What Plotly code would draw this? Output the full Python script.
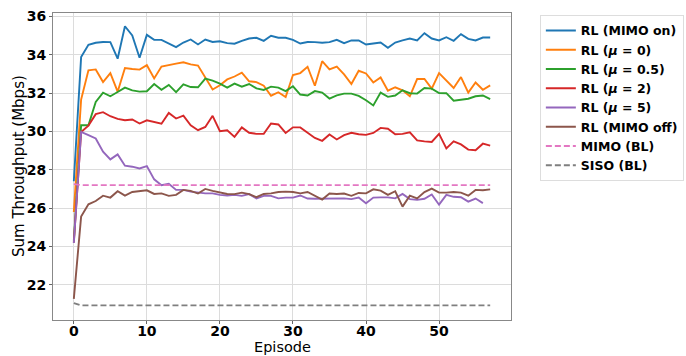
import plotly.graph_objects as go

episodes = list(range(58))

rl_mimo_on = [27.4, 33.87, 34.51, 34.62, 34.66, 34.65, 33.79, 35.48, 35.0, 33.84,
              35.03, 34.77, 34.77, 34.57, 34.39, 34.63, 34.79, 34.53, 34.79, 34.66,
              34.7, 34.6, 34.57, 34.72, 34.84, 34.88, 34.72, 34.98, 34.88, 34.88,
              34.77, 34.58, 34.66, 34.65, 34.62, 34.65, 34.77, 34.6, 34.74, 34.74,
              34.53, 34.58, 34.63, 34.36, 34.63, 34.74, 34.84, 34.74, 35.12, 34.84,
              34.74, 34.91, 34.72, 35.07, 34.82, 34.74, 34.89, 34.89]

rl_mu0 = [25.8, 31.66, 33.18, 33.23, 32.57, 33.04, 32.07, 33.3, 33.25, 33.22,
          33.45, 32.76, 33.38, 33.47, 33.53, 33.6, 33.49, 33.43, 32.78, 32.18,
          32.4, 32.71, 32.86, 33.06, 32.61, 32.57, 32.38, 31.86, 32.04, 31.79,
          32.94, 33.04, 33.37, 32.38, 33.66, 33.23, 33.38, 32.97, 32.47, 33.16,
          33.02, 32.55, 32.81, 32.12, 32.3, 32.14, 31.83, 32.73, 32.73, 32.23,
          33.04, 32.66, 32.26, 32.83, 32.02, 32.55, 32.17, 32.4]

rl_mu05 = [24.3, 30.32, 30.32, 31.53, 32.02, 31.83, 32.05, 32.28, 32.14, 32.07,
           32.09, 32.47, 32.17, 32.42, 32.04, 32.45, 32.31, 32.3, 32.75, 32.65,
           32.49, 32.28, 32.49, 32.33, 32.47, 32.24, 32.16, 32.33, 32.28, 32.1,
           32.35, 31.92, 31.87, 32.1, 32.02, 31.71, 31.88, 31.97, 31.97, 31.85,
           31.62, 31.35, 32.02, 31.8, 31.87, 32.14, 31.99, 31.97, 32.26, 32.23,
           32.0, 31.99, 31.6, 31.66, 31.7, 31.83, 31.87, 31.68]

rl_mu2 = [24.2, 29.97, 30.3, 30.9, 31.0, 30.79, 30.65, 30.58, 30.62, 30.41,
          30.58, 30.5, 30.4, 30.96, 30.67, 30.82, 30.32, 30.06, 30.23, 30.81,
          30.01, 30.06, 29.71, 30.21, 29.93, 29.87, 29.88, 30.41, 30.36, 29.92,
          30.21, 30.21, 29.93, 29.66, 29.51, 29.84, 29.58, 29.8, 29.93, 29.85,
          29.82, 29.92, 30.18, 30.14, 29.85, 29.87, 29.95, 29.53, 29.48, 29.45,
          29.87, 29.11, 29.48, 29.32, 29.05, 29.02, 29.36, 29.26]

rl_mu5 = [24.18, 29.97, 29.8, 29.63, 28.94, 28.54, 28.8, 28.21, 28.16, 28.07,
          28.19, 27.5, 27.19, 27.27, 26.95, 26.95, 26.86, 26.81, 26.77, 26.77,
          26.69, 26.66, 26.69, 26.64, 26.73, 26.51, 26.64, 26.64, 26.51, 26.55,
          26.55, 26.66, 26.5, 26.49, 26.49, 26.49, 26.49, 26.51, 26.47, 26.55,
          26.25, 26.55, 26.56, 26.56, 26.51, 26.74, 26.47, 26.43, 26.49, 26.71,
          26.18, 26.69, 26.59, 26.57, 26.34, 26.5, 26.26]

rl_mimo_off = [21.27, 25.56, 26.2, 26.37, 26.65, 26.55, 26.88, 26.65, 26.84, 26.9,
               26.93, 26.74, 26.77, 26.64, 26.69, 26.95, 26.9, 26.76, 27.0, 26.9,
               26.83, 26.74, 26.73, 26.81, 26.73, 26.57, 26.74, 26.77, 26.84, 26.86,
               26.84, 26.77, 26.84, 26.65, 26.45, 26.76, 26.74, 26.76, 26.64, 26.79,
               26.77, 26.98, 26.91, 26.69, 26.88, 26.08, 26.65, 26.51, 26.84, 27.02,
               26.81, 26.81, 26.84, 26.81, 26.65, 26.95, 26.93, 26.98]

mimo_bl = [27.25, 27.2, 27.2, 27.2, 27.2, 27.2, 27.2, 27.2, 27.2, 27.2,
           27.2, 27.2, 27.2, 27.2, 27.2, 27.2, 27.2, 27.2, 27.2, 27.2,
           27.2, 27.2, 27.2, 27.2, 27.2, 27.2, 27.2, 27.2, 27.2, 27.2,
           27.2, 27.2, 27.2, 27.2, 27.2, 27.2, 27.2, 27.2, 27.2, 27.2,
           27.2, 27.2, 27.2, 27.2, 27.2, 27.2, 27.2, 27.2, 27.2, 27.2,
           27.2, 27.2, 27.2, 27.2, 27.2, 27.2, 27.2, 27.2]

siso_bl = [21.05, 20.93, 20.93, 20.93, 20.93, 20.93, 20.93, 20.93, 20.93, 20.93,
           20.93, 20.93, 20.93, 20.93, 20.93, 20.93, 20.93, 20.93, 20.93, 20.93,
           20.93, 20.93, 20.93, 20.93, 20.93, 20.93, 20.93, 20.93, 20.93, 20.93,
           20.93, 20.93, 20.93, 20.93, 20.93, 20.93, 20.93, 20.93, 20.93, 20.93,
           20.93, 20.93, 20.93, 20.93, 20.93, 20.93, 20.93, 20.93, 20.93, 20.93,
           20.93, 20.93, 20.93, 20.93, 20.93, 20.93, 20.93, 20.93]

x_ticks = [0, 10, 20, 30, 40, 50]
y_ticks = [22, 24, 26, 28, 30, 32, 34, 36]
x_title = "Episode"
y_title = "Sum Throughput (Mbps)"

series = [
    ("RL (MIMO on)", rl_mimo_on, "#1f77b4", "solid"),
    ("RL (<i>μ</i> = 0)", rl_mu0, "#ff7f0e", "solid"),
    ("RL (<i>μ</i> = 0.5)", rl_mu05, "#2ca02c", "solid"),
    ("RL (<i>μ</i> = 2)", rl_mu2, "#d62728", "solid"),
    ("RL (<i>μ</i> = 5)", rl_mu5, "#9467bd", "solid"),
    ("RL (MIMO off)", rl_mimo_off, "#8c564b", "solid"),
    ("MIMO (BL)", mimo_bl, "#e377c2", "6px,3px"),
    ("SISO (BL)", siso_bl, "#7f7f7f", "6px,3px"),
]

fig = go.Figure()
for name, vals, color, dash in series:
    fig.add_trace(go.Scatter(
        x=episodes[:len(vals)], y=vals, mode="lines", name=name,
        line=dict(color=color, width=1.9, dash=dash),
    ))

fam = "DejaVu Sans, sans-serif"

fig.update_layout(
    width=686, height=356,
    margin=dict(l=53, r=175, t=13, b=36, autoexpand=False),
    plot_bgcolor="white", paper_bgcolor="white",
    font=dict(family=fam, color="black"),
    showlegend=True,
    legend=dict(
        x=1.063, y=0.994, xanchor="left", yanchor="top",
        bgcolor="white", bordercolor="#dddddd", borderwidth=1,
        font=dict(family=fam, size=12.5, weight="bold"),
        itemwidth=30, tracegroupgap=0,
    ),
    xaxis=dict(
        range=[-2.85, 59.85], tickvals=x_ticks, ticktext=[str(v) for v in x_ticks],
        showgrid=True, gridcolor="#dcdcdc", gridwidth=1,
        showline=True, linecolor="#888888", linewidth=1, mirror=True,
        ticks="outside", ticklen=3, tickcolor="#666666",
        tickfont=dict(size=14, weight="bold"), ticklabelstandoff=-5,
        zeroline=False, automargin=False,
    ),
    yaxis=dict(
        range=[20.17, 36.17], tickvals=y_ticks, ticktext=[str(v) for v in y_ticks],
        showgrid=True, gridcolor="#dcdcdc", gridwidth=1,
        showline=True, linecolor="#888888", linewidth=1, mirror=True,
        ticks="outside", ticklen=3, tickcolor="#666666",
        tickfont=dict(size=14, weight="bold"),
        zeroline=False, automargin=False,
    ),
    annotations=[
        dict(text=x_title, xref="paper", yref="paper", x=0.5, y=0,
             xanchor="center", yanchor="bottom", yshift=-36, borderpad=0,
             showarrow=False, font=dict(size=14.5, family=fam)),
        dict(text=y_title, xref="paper", yref="paper", x=0, y=0.5,
             xanchor="center", yanchor="middle", xshift=-34.5, textangle=-90,
             showarrow=False, font=dict(size=15, family=fam)),
    ],
)

fig.write_html("out.html", config={"displayModeBar": False},
               post_script="document.body.style.margin='0px';")
